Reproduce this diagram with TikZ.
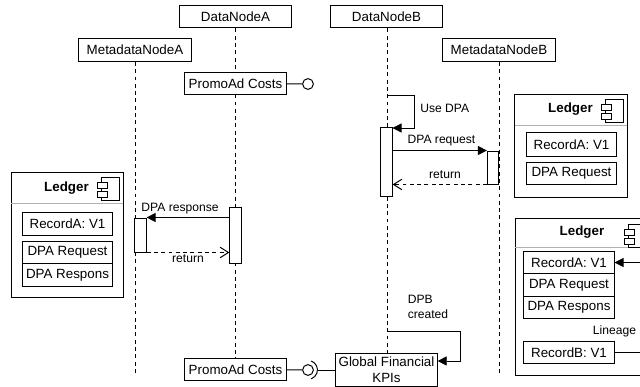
\documentclass[tikz,border=0pt]{standalone}
\usepackage{fontspec}
\setmainfont{Liberation Sans}
\usetikzlibrary{arrows.meta}
\tikzset{
	box/.style={draw, line width=0.7pt, fill=white, inner sep=0pt, font=\fontsize{9.5pt}{11.4pt}\selectfont, align=center},
	lifeline/.style={line width=0.7pt, dash pattern=on 2.8pt off 2.4pt},
	activation/.style={draw, line width=0.7pt, fill=white},
	msg/.style={line width=0.7pt, -{Triangle[length=6.5pt,width=6.5pt]}},
	reply/.style={line width=0.7pt, dash pattern=on 2.8pt off 2.4pt, -{Straight Barb[length=6pt,width=7.5pt]}},
	lbl/.style={font=\fontsize{8.6pt}{10.7pt}\selectfont, inner sep=0pt, align=left},
	ledgertitle/.style={font=\bfseries\fontsize{9.5pt}{11pt}\selectfont, inner sep=0pt},
	pics/compicon/.style={code={
		\draw[line width=0.6pt] (0,0) rectangle (18,23);
		\draw[line width=0.6pt, fill=white] (-4,5) rectangle (6,11);
		\draw[line width=0.6pt, fill=white] (-4,14) rectangle (6,20);
	}}
}
\begin{document}
\begin{tikzpicture}[x=0.025cm, y=-0.025cm]
	\useasboundingbox (0,0) rectangle (640,387);

	% Lifelines
	\coordinate (endA) at (235,358);
	\coordinate (endMA) at (135,375);
	\coordinate (endB) at (387,353);
	\coordinate (endMB) at (499,375);
	\node[box, minimum width=2.8cm, minimum height=0.57cm] (dataA) at (235.5,16.5) {DataNodeA};
	\node[box, minimum width=2.8cm, minimum height=0.57cm] (dataB) at (386.5,16.5) {DataNodeB};
	\node[box, minimum width=2.8cm, minimum height=0.57cm] (metaA) at (135,50) {MetadataNodeA};
	\node[box, minimum width=2.8cm, minimum height=0.57cm] (metaB) at (499,50) {MetadataNodeB};
	\draw[lifeline] (dataA.south -| endA) -- (endA);
	\draw[lifeline] (metaA) -- (endMA);
	\draw[lifeline] (dataB.south -| endB) -- (endB);
	\draw[lifeline] (metaB) -- (endMB);

	% PromoAd Costs (top)
	\node[box, minimum width=2.53cm, minimum height=0.57cm] (promoTop) at (235.5,83.5) {PromoAd Costs};
	\node[draw, circle, line width=0.7pt, minimum size=0.27cm, inner sep=0pt] (lolliTop) at (308,84) {};
	\draw[line width=0.7pt] (promoTop) -- (lolliTop);

	% DataNodeB calls
	\node[activation, minimum width=0.28cm, minimum height=1.7cm, inner sep=0pt] (actB) at (386.5,162) {};
	\node[activation, minimum width=0.28cm, minimum height=0.825cm, inner sep=0pt] (actMB) at (493,167.5) {};
	\draw[msg] (387,95) -- (414,95) -- (414,128) -- (392.5,128);
	\node[lbl, anchor=west] (useDpa) at (420,108.5) {Use DPA};
	\draw[msg] (actB.east |- actMB.north) -- (actMB.north west);
	\node[lbl] (dpaReq) at (441.5,141) {DPA request};
	\draw[reply] (actMB.south west) -- (actB.east |- actMB.south);
	\node[lbl] (retB) at (445,175) {return};

	% DataNodeA calls
	\node[activation, minimum width=0.28cm, minimum height=1.4cm, inner sep=0pt] (actA) at (235.5,235) {};
	\node[activation, minimum width=0.28cm, minimum height=0.85cm, inner sep=0pt] (actMA) at (140.5,235) {};
	\draw[msg] (actA.west |- actMA.north) -- (actMA.north east);
	\node[lbl] (dpaRes) at (180,208.5) {DPA response};
	\draw[reply] (actMA.south east) -- (actA.west |- actMA.south);
	\node[lbl] (retA) at (188,259) {return};

	% Ledger (left)
	\node[draw, line width=0.7pt, minimum width=2.8cm, minimum height=3.1cm, inner sep=0pt] (ledgerL) at (67.5,235) {};
	\draw[gray!60, line width=0.7pt] (11,203) -- (123,203);
	\node[ledgertitle, anchor=east] (titleL) at (89,188.5) {Ledger};
	\pic at (101,177) {compicon};
	\node[box, minimum width=2.25cm, minimum height=0.57cm] (recAL) at (67.5,224) {RecordA: V1};
	\node[box, minimum width=2.25cm, minimum height=0.57cm] (reqL) at (67.5,252.5) {DPA Request};
	\node[box, minimum width=2.25cm, minimum height=0.57cm] (resL) at (67.5,275) {DPA Respons};

	% Ledger (top right)
	\node[draw, line width=0.7pt, minimum width=2.8cm, minimum height=2.55cm, inner sep=0pt] (ledgerT) at (571,146) {};
	\draw[gray!60, line width=0.7pt] (515,125) -- (627,125);
	\node[ledgertitle, anchor=east] (titleT) at (593,109.5) {Ledger};
	\pic at (605,99) {compicon};
	\node[box, minimum width=2.25cm, minimum height=0.6cm] (recAT) at (571.5,144.5) {RecordA: V1};
	\node[box, minimum width=2.25cm, minimum height=0.57cm] (reqT) at (571.5,173.5) {DPA Request};

	% Ledger (bottom right)
	\coordinate (inRec) at (640,262.5);
	\coordinate (outRec) at (640,352.5);
	\draw[line width=0.7pt] (640,218) -- (515,218) -- (515,375) -- (640,375);
	\draw[gray!60, line width=0.7pt] (515,247) -- (640,247);
	\node[ledgertitle] (titleR) at (582,232) {Ledger};
	\pic at (628,224) {compicon};
	\node[box, minimum width=2.25cm, minimum height=0.57cm] (recAR) at (569,262.5) {RecordA: V1};
	\node[box, minimum width=2.25cm, minimum height=0.57cm] (reqR) at (569,285) {DPA Request};
	\node[box, minimum width=2.25cm, minimum height=0.57cm] (resR) at (569,307.5) {DPA Respons};
	\node[box, minimum width=2.25cm, minimum height=0.57cm] (recBR) at (569,352.5) {RecordB: V1};
	\node[lbl] (lineage) at (614.5,331) {Lineage};
	\draw[msg] (inRec) -- (recAR);
	\draw[line width=0.7pt] (recBR) -- (outRec);

	% Bottom row
	\node[box, minimum width=2.53cm, minimum height=0.57cm] (promoBot) at (235.5,369.5) {PromoAd Costs};
	\node[draw, circle, line width=0.7pt, minimum size=0.27cm, inner sep=0pt] (lolliBot) at (308,370) {};
	\node[box, minimum width=2.53cm, minimum height=0.83cm] (kpi) at (386.5,370) {Global Financial\\KPIs};
	\draw[line width=0.7pt] (promoBot) -- (lolliBot);
	\draw[line width=0.7pt] (311.2,361) arc[start angle=-70, end angle=70, radius=9.5];
	\draw[line width=0.7pt] (317.5,370) -- (kpi);
	\draw[msg] (387,331) -- (460,331) -- (460,361) -- (kpi.east |- 0,361);
	\node[lbl, anchor=north west] (dpbNote) at (407.5,295) {DPB\\created};
\end{tikzpicture}
\end{document}
